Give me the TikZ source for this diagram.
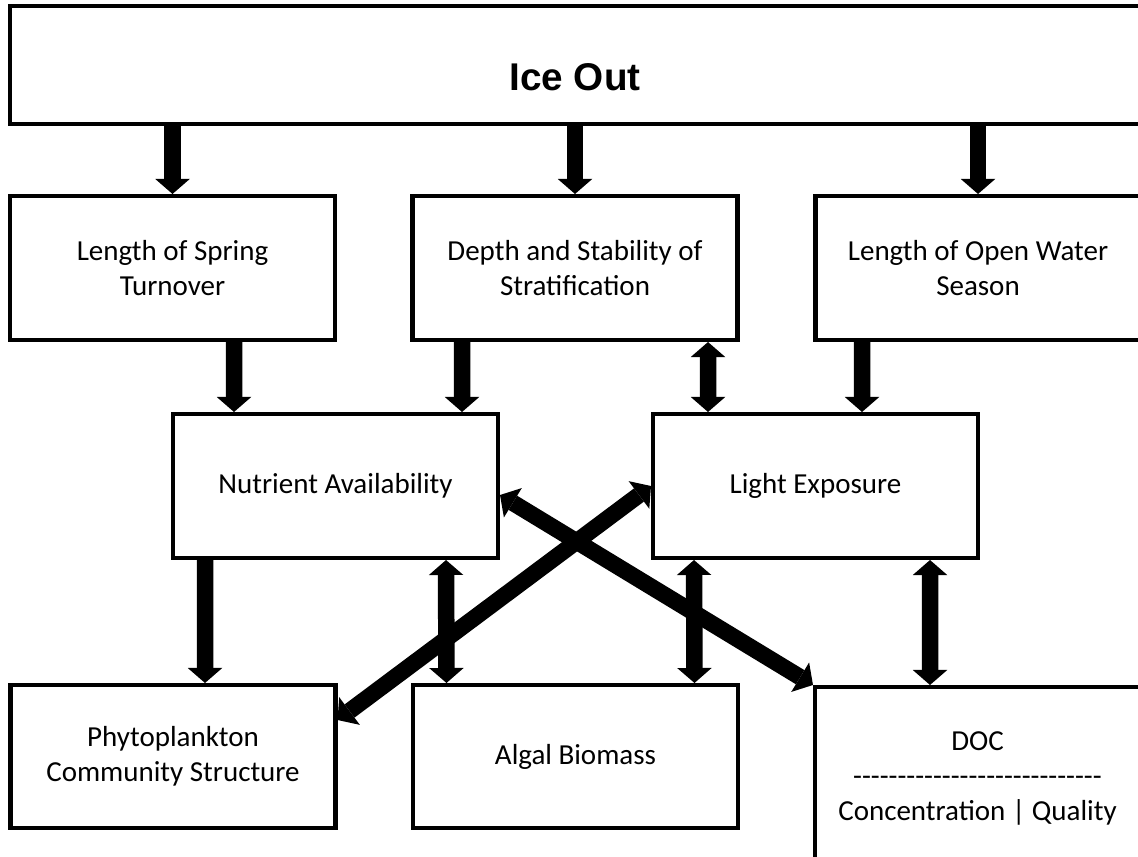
\documentclass[tikz,border=0pt]{standalone}
\usepackage{fontspec}
\setmainfont{Carlito}
\newfontfamily\headfont{Liberation Sans}
\usetikzlibrary{arrows.meta}

\tikzstyle{block} = [rectangle, draw, line width=2.3pt, align=center,
     minimum width=6.5cm, minimum height=2.88cm, font=\fontsize{16.5}{20}\selectfont]
\tikzstyle{line} = [draw, line width=0.33cm, ->]
\tikzstyle{both} = [line, <->]

\begin{document}
\begin{tikzpicture}[node distance=8.05cm, >={Triangle[width=0.69cm,length=0.3cm,line width=0pt]}]
    \useasboundingbox (0,0) rectangle (22.76,-17.12);
    % Place nodes
    \node [block] (spring) at (3.45,-5.36) {Length of Spring\\ Turnover};
    \node [block, right of=spring] (depth) {Depth and Stability of\\ Stratification};
    \node [block, right of=depth, node distance=8.06cm] (open) {Length of Open Water\\ Season};
    \node [block, above of=depth, node distance=4.06cm, minimum width=22.6cm, minimum height=2.36cm,
           text height=1.03cm, text depth=0pt,
           font=\headfont\bfseries\fontsize{22}{26}\selectfont] (ice) {Ice Out};
    \node [block] (nutrient) at (6.71,-9.72) {Nutrient Availability};
    \node [block, right of=nutrient, node distance=9.6cm] (light) {Light Exposure};
    \node [block, minimum height=2.86cm] (phyto) at (3.46,-15.13) {Phytoplankton\\ Community Structure};
    \node [block, right of=phyto, minimum height=2.86cm] (algal) {Algal Biomass};
    \node [block, minimum height=3.66cm] (doc) at (19.55,-15.57)
          {DOC\\ \foreach \d in {1,...,28}{-}\\ Concentration | Quality};

    % Draw edges
    \path [line] (ice.south -| spring.north) -- (spring.north);
    \path [line] (ice.south -| depth.north) -- (depth.north);
    \path [line] (ice.south -| open.north) -- (open.north);
    \path [line] ([xshift=1.23cm]spring.south) -- ([xshift=-2.03cm]nutrient.north);
    \path [line] ([xshift=-2.26cm]depth.south) -- ([xshift=2.53cm]nutrient.north);
    \path [both] ([xshift=2.66cm]depth.south) -- ([xshift=-2.15cm]light.north);
    \path [line] ([xshift=-2.32cm]open.south) -- ([xshift=0.93cm]light.north);
    \path [line] ([xshift=-2.61cm]nutrient.south) -- ([xshift=0.64cm]phyto.north);
    \path [both] ([xshift=2.21cm]nutrient.south) -- ([xshift=-2.58cm]algal.north);
    \path [both] ([xshift=-2.43cm]light.south) -- ([xshift=2.38cm]algal.north);
    \path [both] ([xshift=2.29cm]light.south) -- ([xshift=-0.95cm]doc.north);
    \path [both] ([yshift=-0.18cm]nutrient.east) -- (doc.north west);
    \path [both] (light.west) -- ([yshift=0.73cm]phyto.east);

\end{tikzpicture}
\end{document}
